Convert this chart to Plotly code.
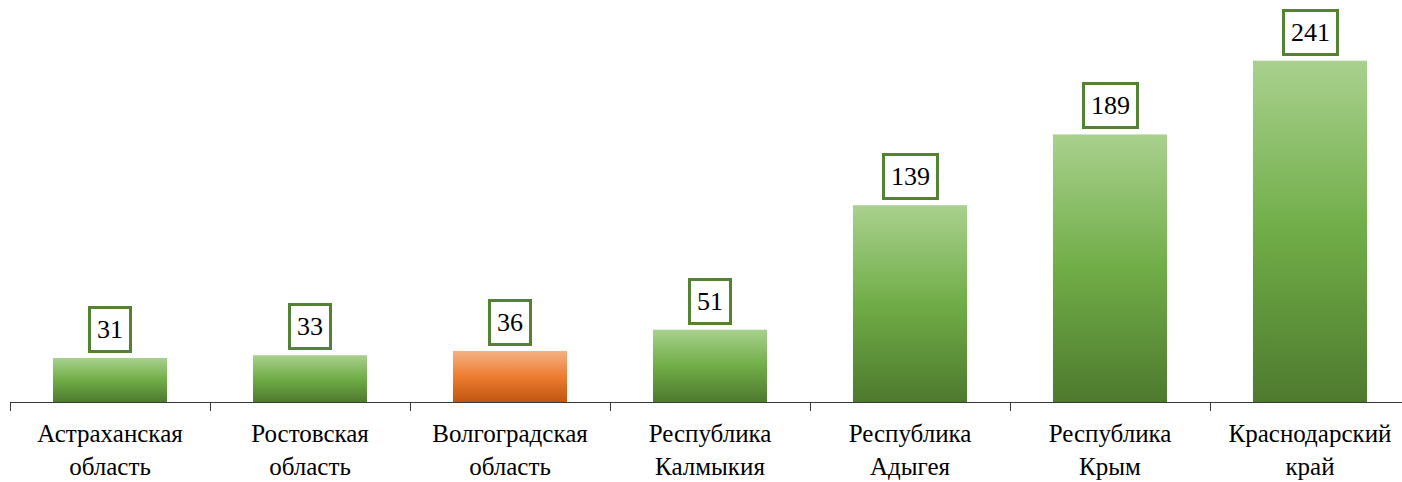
import plotly.graph_objects as go

categories = ["Астраханская<br>область", "Ростовская<br>область", "Волгоградская<br>область",
              "Республика<br>Калмыкия", "Республика<br>Адыгея", "Республика<br>Крым",
              "Краснодарский<br>край"]
values = [31, 33, 36, 51, 139, 189, 241]
highlight = [False, False, True, False, False, False, False]

green_scale = [[0.0, "#4e7a2e"], [0.5, "#70ad47"], [1.0, "#a9d18e"]]
orange_scale = [[0.0, "#c0560f"], [0.5, "#ed7d31"], [1.0, "#f4b183"]]
BAR_HALF = 0.285
SERIF = "'Liberation Serif', 'Times New Roman', Times, serif"

fig = go.Figure()

fig.add_trace(go.Bar(x=categories, y=values, marker_color="rgba(0,0,0,0)",
                     hoverinfo="skip", showlegend=False))

for i, (v, h) in enumerate(zip(values, highlight)):
    fig.add_trace(go.Scatter(
        x=[i - BAR_HALF, i + BAR_HALF, i + BAR_HALF, i - BAR_HALF, i - BAR_HALF],
        y=[0, 0, v, v, 0],
        xaxis="x2", mode="lines", line=dict(width=0),
        fill="toself",
        fillgradient=dict(type="vertical", colorscale=orange_scale if h else green_scale),
        hoverinfo="text", text=str(v), showlegend=False,
    ))

for i, v in enumerate(values):
    fig.add_annotation(
        x=i, y=v, xref="x2", yref="y", text=str(v), showarrow=False,
        yanchor="bottom", yshift=5,
        font=dict(family=SERIF, size=26, color="#000000"),
        bgcolor="#ffffff", bordercolor="#548235", borderwidth=3, borderpad=6,
    )

XR = [-0.5, 6.46]
fig.update_layout(
    width=1402, height=482,
    margin=dict(l=10, r=0, t=0, b=80, autoexpand=False),
    paper_bgcolor="white", plot_bgcolor="white",
    font=dict(family=SERIF),
    xaxis=dict(type="category", range=XR, tickson="boundaries", ticks="outside",
               ticklen=8, tickcolor="#3a3a3a", showline=True, linecolor="#3a3a3a",
               linewidth=1, showgrid=False, zeroline=False, ticklabelstandoff=9,
               automargin=False,
               tickfont=dict(family=SERIF, size=25, color="#000000")),
    xaxis2=dict(overlaying="x", range=XR, visible=False),
    yaxis=dict(range=[0, 284], visible=False, showgrid=False, zeroline=False),
    bargap=0.43,
)

fig.write_html("out.html", config={"displayModeBar": False},
               post_script="document.body.style.margin='0';")
